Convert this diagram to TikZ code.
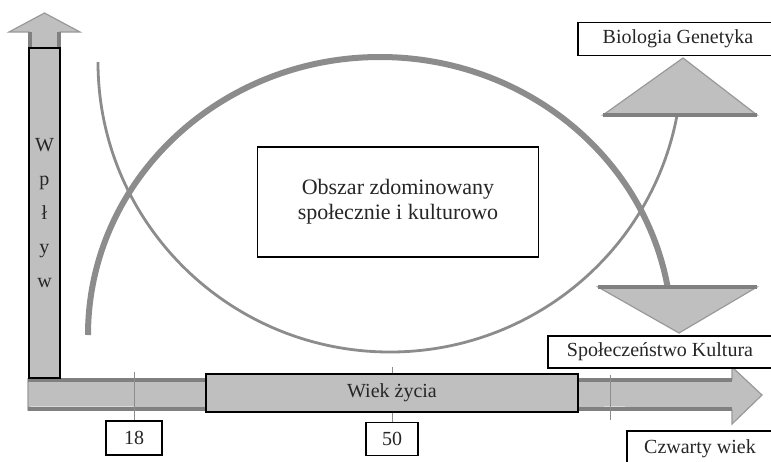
\documentclass[tikz,border=0pt]{standalone}
\usepackage{fontspec}
\setmainfont{Liberation Serif}
\usetikzlibrary{positioning}

\begin{document}
\begin{tikzpicture}[x=0.5pt, y=-0.5pt,
  box/.style={draw, fill=white, line width=0.6pt, inner sep=0pt, text=black!85, font=\fontsize{10}{12}\selectfont},
  greybox/.style={box, fill=black!25},
  shade/.style={fill=black!25, draw=black!40, line width=0.6pt},
  edge/.style={black!50, line width=2pt},
  tick/.style={black!45, line width=0.5pt}]
  \useasboundingbox (0,0) rectangle (771,461);
  \clip (0,0) rectangle (771,461);
  % the two curves
  \draw[black!45, line width=3pt] (88,335) arc[start angle=180, end angle=350, x radius=292, y radius=278];
  \draw[black!45, line width=1.4pt] (98,62) arc[start angle=180, end angle=10, x radius=292, y radius=290];
  % triangles
  \draw[shade] (603,115) -- (683,58) -- (757,115) -- cycle;
  \draw[edge] (603,115) -- (757,115);
  \draw[shade] (598,287) -- (679,333) -- (757,287) -- cycle;
  \draw[edge] (598,287) -- (757,287);
  % axes
  \draw[shade] (28,379) -- (732,379) -- (732,367) -- (762,395) -- (732,424) -- (732,410) -- (28,410) -- cycle;
  \draw[edge] (28,380) -- (732,380) (28,409) -- (732,409);
  \draw[black!15] (31,406) -- (134,406) (604,406) -- (625,406);
  \draw[shade] (29,378) -- (29,32) -- (9,32) -- (44.5,13) -- (80,32) -- (60,32) -- (60,378) -- cycle;
  \draw[edge] (30,32) -- (30,48) (59,32) -- (59,48);
  \node[greybox, minimum width=15.5pt, minimum height=165pt, align=center,
    font=\fontsize{10}{17}\selectfont] (wplyw) at (44.5,213) {W\\p\\ł\\y\\w};
  % age marks
  \node[box, minimum width=28pt, minimum height=17pt] (age18) at (134,438) {18};
  \node[box, minimum width=26pt, minimum height=16.5pt] (age50) at (392,439) {50};
  \coordinate (t18) at (134,372);
  \coordinate (t50) at (392,367);
  \coordinate (t4a) at (610,375);
  \coordinate (t4b) at (610,420);
  \draw[tick] (age18) -- (t18);
  \draw[tick] (age50) -- (t50);
  \draw[tick] (t4a) -- (t4b);
  \node[greybox, minimum width=186pt, minimum height=19pt] (wiek) at (392,393) {Wiek życia};
  % labels
  \node[box, minimum width=140.5pt, minimum height=55pt, align=center,
    font=\fontsize{11}{12.5}\selectfont] (obszar) at (398,202) {Obszar zdominowany\\społecznie i kulturowo};
  \node[box, minimum width=100pt, minimum height=16.5pt] (bio) at (678,39) {Biologia Genetyka};
  \node[box, minimum width=112pt, minimum height=16pt] (spol) at (660,352) {Społeczeństwo Kultura};
  \node[box, minimum width=73pt, minimum height=18pt] (czw) at (700,449) {Czwarty wiek};
\end{tikzpicture}
\end{document}
